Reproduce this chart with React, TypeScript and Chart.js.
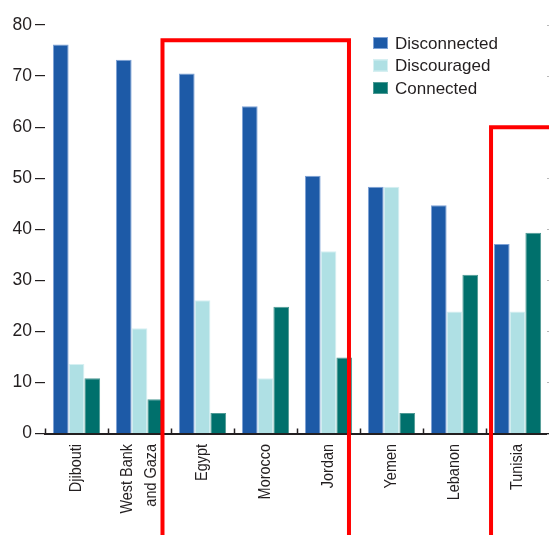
import React, { useEffect, useRef } from "react";
import { Chart, registerables } from "chart.js";

Chart.register(...registerables);

const categories: string[][] = [
  ["Djibouti"],
  ["West Bank", "and Gaza"],
  ["Egypt"],
  ["Morocco"],
  ["Jordan"],
  ["Yemen"],
  ["Lebanon"],
  ["Tunisia"],
];
const seriesNames = ["Disconnected", "Discouraged", "Connected"];
const disconnected = [76.2, 73.2, 70.5, 64.1, 50.5, 48.3, 44.7, 37.1];
const discouraged = [13.6, 20.6, 26.1, 10.8, 35.7, 48.3, 23.9, 23.9];
const connected = [10.8, 6.7, 4.0, 24.8, 14.9, 4.0, 31.1, 39.3];
const yTickValues = [0, 10, 20, 30, 40, 50, 60, 70, 80];

// highlight annotations: category range and top value
const highlights = [
  { from: 2, to: 4, top: 77, padLeft: 0.635, padRight: 0.325 },
  { from: 7, to: 7, top: 60, padLeft: 0.42, padRight: 1.0 },
];

const colors = ["#1d5aa7", "#afe0e4", "#00706c"];
const borders = ["#7ea2d6", "#d6f0f2", "#4f9a95"];
const textColor = "#231f20";
const fontMain = "'Liberation Sans', Arial, sans-serif";

const overlayPlugin = {
  id: "overlay",
  afterDatasetsDraw(chart: any) {
    const { ctx, chartArea, scales } = chart;
    const x = scales.x;
    const y = scales.y;
    const n = categories.length;
    const cw = x.getPixelForValue(1) - x.getPixelForValue(0);
    ctx.save();
    // upward ticks on x axis between categories
    ctx.strokeStyle = textColor;
    ctx.lineWidth = 1.5;
    for (let i = 0; i < n; i++) {
      const px = Math.round(x.getPixelForValue(i) - cw / 2) + 0.5;
      ctx.beginPath();
      ctx.moveTo(px, chartArea.bottom);
      ctx.lineTo(px, chartArea.bottom - 5);
      ctx.stroke();
    }
    // faint marks at right edge (neighbouring axis)
    ctx.strokeStyle = "#b8b8b8";
    ctx.lineWidth = 1;
    for (const v of yTickValues) {
      const py = Math.round(y.getPixelForValue(v)) + 0.5;
      ctx.beginPath();
      ctx.moveTo(chart.width - 2, py);
      ctx.lineTo(chart.width, py);
      ctx.stroke();
    }
    ctx.restore();
  },
  afterDraw(chart: any) {
    const { ctx, chartArea, scales } = chart;
    const x = scales.x;
    const y = scales.y;
    const cw = x.getPixelForValue(1) - x.getPixelForValue(0);
    ctx.save();
    // rotated, condensed category labels
    ctx.fillStyle = textColor;
    ctx.font = `17px ${fontMain}`;
    ctx.textAlign = "right";
    ctx.textBaseline = "middle";
    const lineGap = 23.5;
    categories.forEach((lines, i) => {
      const px = x.getPixelForValue(i);
      lines.forEach((line, j) => {
        const off = (j - (lines.length - 1) / 2) * lineGap;
        ctx.save();
        ctx.translate(px + off, chartArea.bottom + 10.5);
        ctx.rotate(-Math.PI / 2);
        ctx.scale(0.85, 1);
        ctx.fillText(line, 0, 0);
        ctx.restore();
      });
    });
    // legend
    const lx = chartArea.left + 328;
    const ly = chartArea.top + 18;
    ctx.font = `17px ${fontMain}`;
    ctx.textBaseline = "middle";
    ctx.textAlign = "left";
    chart.data.datasets.forEach((ds: any, i: number) => {
      const cy = ly + i * 22.5;
      ctx.fillStyle = ds.backgroundColor;
      ctx.fillRect(lx, cy - 6, 15, 12);
      ctx.strokeStyle = ds.borderColor;
      ctx.lineWidth = 1;
      ctx.strokeRect(lx + 0.5, cy - 5.5, 14, 11);
      ctx.fillStyle = textColor;
      ctx.fillText(ds.label, lx + 22, cy + 1);
    });
    // red highlight boxes
    ctx.strokeStyle = "#ff0000";
    ctx.lineWidth = 4;
    for (const h of highlights) {
      const left = x.getPixelForValue(h.from) - cw * h.padLeft;
      const right = x.getPixelForValue(h.to) + cw * h.padRight;
      const top = y.getPixelForValue(h.top);
      const bottom = chart.height + 10;
      ctx.beginPath();
      ctx.moveTo(left, bottom);
      ctx.lineTo(left, top);
      ctx.lineTo(right, top);
      ctx.lineTo(right, bottom);
      ctx.stroke();
    }
    ctx.restore();
  },
};

export default function App() {
  const ref = useRef<HTMLCanvasElement | null>(null);
  useEffect(() => {
    if (!ref.current) return;
    const chart = new Chart(ref.current, {
      type: "bar",
      data: {
        labels: categories.map((l) => l.join(" ")),
        datasets: [disconnected, discouraged, connected].map((d, i) => ({
          label: seriesNames[i],
          data: d,
          backgroundColor: colors[i],
          borderColor: borders[i],
          borderWidth: 1,
          categoryPercentage: 0.75,
          barPercentage: 1.0,
        })),
      },
      options: {
        responsive: false,
        animation: false,
        layout: { padding: { top: 25, right: 0, left: 0, bottom: 0 } },
        plugins: { legend: { display: false }, tooltip: { enabled: false } },
        scales: {
          x: {
            grid: { display: false, drawTicks: false },
            border: { display: true, color: textColor, width: 2 },
            ticks: { display: false },
            afterFit(scale: any) {
              scale.height = 101.5;
            },
          },
          y: {
            min: 0,
            max: 80,
            afterBuildTicks(scale: any) {
              scale.ticks = yTickValues.map((v) => ({ value: v }));
            },
            grid: {
              display: true,
              drawOnChartArea: false,
              drawTicks: true,
              tickLength: 10,
              color: textColor,
              lineWidth: 1.2,
            },
            border: { display: false },
            ticks: {
              padding: 3,
              color: textColor,
              font: { family: fontMain, size: 17.5 },
            },
            afterFit(scale: any) {
              scale.width = 45;
            },
          },
        },
      },
      plugins: [overlayPlugin],
    });
    return () => chart.destroy();
  }, []);
  return (
    <div style={{ position: "absolute", left: 0, top: 0, width: 549, height: 535, background: "#fff" }}>
      <canvas ref={ref} width={549} height={535} />
    </div>
  );
}
